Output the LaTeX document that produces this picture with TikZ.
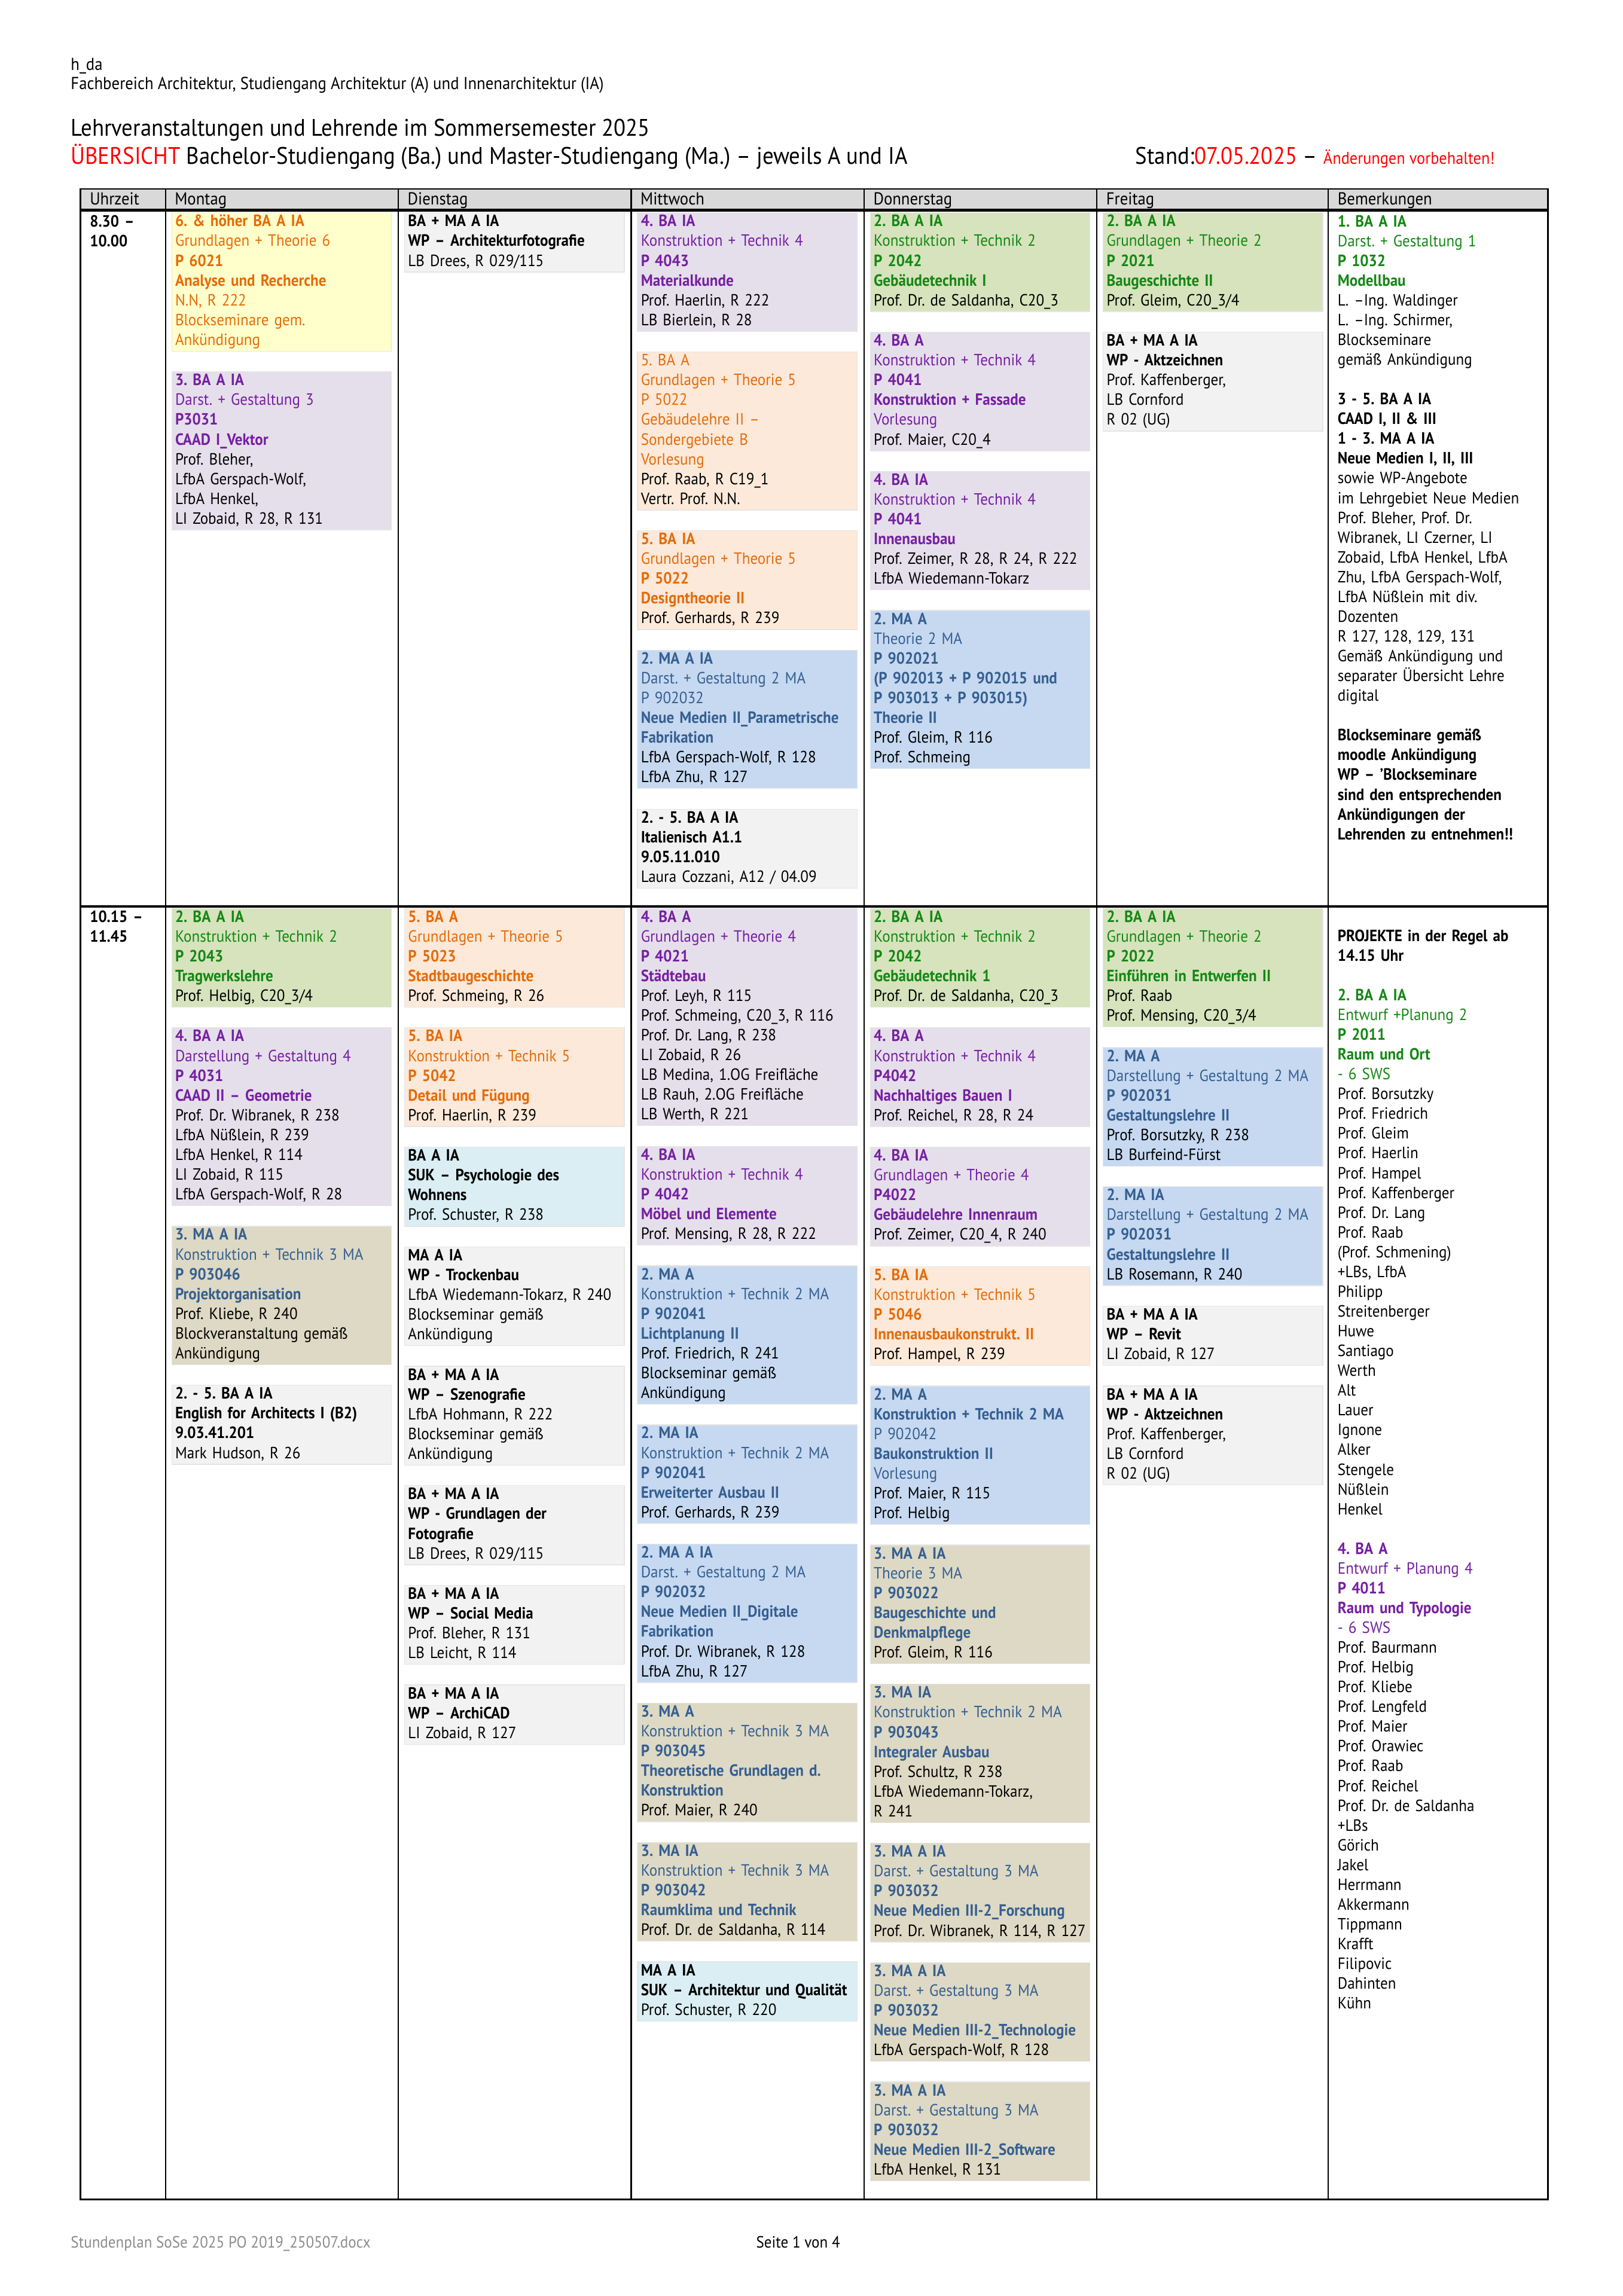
\documentclass[tikz,border=0pt]{standalone}
\usepackage{fontspec}
\setmainfont{PT Sans}[FakeStretch=0.92]
\usetikzlibrary{positioning}
\definecolor{grnT}{RGB}{20,135,20}
\definecolor{grnB}{RGB}{214,227,188}
\definecolor{purT}{RGB}{118,32,160}
\definecolor{purB}{RGB}{229,223,236}
\definecolor{oraT}{RGB}{228,108,10}
\definecolor{oraB}{RGB}{253,233,217}
\definecolor{yelB}{RGB}{255,255,204}
\definecolor{bluT}{RGB}{54,95,145}
\definecolor{bluB}{RGB}{198,217,241}
\definecolor{tanB}{RGB}{221,217,196}
\definecolor{cyaB}{RGB}{218,238,243}
\definecolor{gryB}{RGB}{242,242,242}
\definecolor{hdrB}{RGB}{217,217,217}
\definecolor{redT}{RGB}{255,0,0}
\frenchspacing
\newcommand{\tbl}{\fontsize{6}{7.28}\selectfont}
\newcommand{\hdf}{\fontsize{6.4}{7.6}\selectfont}
\newcommand{\ttl}{\fontsize{8.8}{11}\selectfont}
\newcommand{\bk}[1]{\textcolor{black}{#1}}

\begin{document}
\begin{tikzpicture}[
  x=0.018953cm, y=-0.018953cm,
  node distance=0.2559cm,
  blk/.style={anchor=north west, inner xsep=0.045cm, inner ysep=0pt, text width=2.752cm,
    align=left, font=\tbl, draw=black!10, line width=0.3pt,
    execute at begin node=\strut, execute at end node=\strut},
  grn/.style={blk, fill=grnB, text=grnT},
  pur/.style={blk, fill=purB, text=purT},
  ora/.style={blk, fill=oraB, text=oraT},
  yel/.style={blk, fill=yelB, text=oraT},
  blu/.style={blk, fill=bluB, text=bluT},
  tan/.style={blk, fill=tanB, text=bluT},
  gry/.style={blk, fill=gryB, text=black},
  cya/.style={blk, fill=cyaB, text=black},
  note/.style={anchor=north west, inner sep=0pt, text width=2.8cm, align=left, font=\tbl,
    execute at begin node=\strut, execute at end node=\strut},
  lbl/.style={anchor=base west, inner sep=0pt, font=\tbl}
]
  \useasboundingbox (0,0) rectangle (1108,1568);

  \node[lbl, font=\hdf] (hda) at (48,48) {h\_da};
  \node[lbl, font=\hdf] (fb) at (48,61) {Fachbereich Architektur, Studiengang Architektur (A) und Innenarchitektur (IA)};
  \node[lbl, font=\ttl] (title) at (48,93) {Lehrveranstaltungen und Lehrende im Sommersemester 2025};
  \node[lbl, font=\ttl] (sub) at (48,112) {\textcolor{redT}{ÜBERSICHT} Bachelor-Studiengang (Ba.) und Master-Studiengang (Ma.) – jeweils A und IA};
  \node[lbl, font=\ttl] (stand) at (775,112) {Stand:\textcolor{redT}{07.05.2025} – {\fontsize{6.3}{8}\selectfont\textcolor{redT}{Änderungen vorbehalten!}}};

  % Tabelle
  \fill[hdrB] (55,129) rectangle (1057,143);
  \draw[line width=0.6pt] (55,129) rectangle (1057,1502);
  \draw[line width=1.2pt] (55,143.5) -- (1057,143.5);
  \draw[line width=0.8pt] (55,619) -- (1057,619);
  \foreach \x in {113,272,431,590,749,907}
    \draw[line width=0.5pt] (\x,129) -- (\x,1502);
  \foreach \x/\d in {55/Uhrzeit,113/Montag,272/Dienstag,431/Mittwoch,590/Donnerstag,749/Freitag,907/Bemerkungen}
    \node[lbl, font=\hdf] (hd\d) at (\x+6,140) {\d};

  \node[note, text width=1cm] (t1) at (61,145) {\textbf{8.30 –}\\\textbf{10.00}};
  \node[note, text width=1cm] (t2) at (61,620) {\textbf{10.15 –}\\\textbf{11.45}};

  % 8.30 - 10.00
  \node[yel] (mo1) at (117,145) {\textbf{6. \& höher BA A IA}\\Grundlagen + Theorie 6\\\textbf{P 6021}\\\textbf{Analyse und Recherche}\\N.N, R 222\\Blockseminare gem.\\Ankündigung};
  \node[pur, below=of mo1] (mo2) {\textbf{3. BA A IA}\\Darst. + Gestaltung 3\\\textbf{P3031}\\\textbf{CAAD I\_Vektor}\\\bk{Prof. Bleher,}\\\bk{LfbA Gerspach-Wolf,}\\\bk{LfbA Henkel,}\\\bk{LI Zobaid, R 28, R 131}};

  \node[gry] (di1) at (276,145) {\textbf{BA + MA A IA}\\\textbf{WP – Architekturfotografie}\\LB Drees, R 029/115};

  \node[pur] (mi1) at (435,145) {\textbf{4. BA IA}\\Konstruktion + Technik 4\\\textbf{P 4043}\\\textbf{Materialkunde}\\\bk{Prof. Haerlin, R 222}\\\bk{LB Bierlein, R 28}};
  \node[ora, below=of mi1] (mi2) {5. BA A\\Grundlagen + Theorie 5\\P 5022\\Gebäudelehre II –\\Sondergebiete B\\Vorlesung\\\bk{Prof. Raab, R C19\_1}\\\bk{Vertr. Prof. N.N.}};
  \node[ora, below=of mi2] (mi3) {\textbf{5. BA IA}\\Grundlagen + Theorie 5\\\textbf{P 5022}\\\textbf{Designtheorie II}\\\bk{Prof. Gerhards, R 239}};
  \node[blu, below=of mi3] (mi4) {\textbf{2. MA A IA}\\Darst. + Gestaltung 2 MA\\P 902032\\\textbf{Neue Medien II\_Parametrische}\\\textbf{Fabrikation}\\\bk{LfbA Gerspach-Wolf, R 128}\\\bk{LfbA Zhu, R 127}};
  \node[gry, below=of mi4] (mi5) {\textbf{2. - 5. BA A IA}\\\textbf{Italienisch A1.1}\\\textbf{9.05.11.010}\\Laura Cozzani, A12 / 04.09};

  \node[grn] (do1) at (594,145) {\textbf{2. BA A IA}\\Konstruktion + Technik 2\\\textbf{P 2042}\\\textbf{Gebäudetechnik I}\\\bk{Prof. Dr. de Saldanha, C20\_3}};
  \node[pur, below=of do1] (do2) {\textbf{4. BA A}\\Konstruktion + Technik 4\\\textbf{P 4041}\\\textbf{Konstruktion + Fassade}\\Vorlesung\\\bk{Prof. Maier, C20\_4}};
  \node[pur, below=of do2] (do3) {\textbf{4. BA IA}\\Konstruktion + Technik 4\\\textbf{P 4041}\\\textbf{Innenausbau}\\\bk{Prof. Zeimer, R 28, R 24, R 222}\\\bk{LfbA Wiedemann-Tokarz}};
  \node[blu, below=of do3] (do4) {\textbf{2. MA A}\\Theorie 2 MA\\\textbf{P 902021}\\\textbf{(P 902013 + P 902015 und}\\\textbf{P 903013 + P 903015)}\\\textbf{Theorie II}\\\bk{Prof. Gleim, R 116}\\\bk{Prof. Schmeing}};

  \node[grn] (fr1) at (753,145) {\textbf{2. BA A IA}\\Grundlagen + Theorie 2\\\textbf{P 2021}\\\textbf{Baugeschichte II}\\\bk{Prof. Gleim, C20\_3/4}};
  \node[gry, below=of fr1] (fr2) {\textbf{BA + MA A IA}\\\textbf{WP - Aktzeichnen}\\Prof. Kaffenberger,\\LB Cornford\\R 02 (UG)};

  \node[note] (be1) at (913,145) {\textcolor{grnT}{\textbf{1. BA A IA}}\\\textcolor{grnT}{Darst. + Gestaltung 1}\\\textcolor{grnT}{\textbf{P 1032}}\\\textcolor{grnT}{\textbf{Modellbau}}\\L. –Ing. Waldinger\\L. –Ing. Schirmer,\\Blockseminare\\gemäß Ankündigung\\[7.28pt]
    \textbf{3 - 5. BA A IA}\\\textbf{CAAD I, II \& III}\\\textbf{1 - 3. MA A IA}\\\textbf{Neue Medien I, II, III}\\sowie WP-Angebote\\im Lehrgebiet Neue Medien\\Prof. Bleher, Prof. Dr.\\Wibranek, LI Czerner, LI\\Zobaid, LfbA Henkel, LfbA\\Zhu, LfbA Gerspach-Wolf,\\LfbA Nüßlein mit div.\\Dozenten\\R 127, 128, 129, 131\\Gemäß Ankündigung und\\separater Übersicht Lehre\\digital\\[7.28pt]
    \textbf{Blockseminare gemäß}\\\textbf{moodle Ankündigung}\\\textbf{WP – 'Blockseminare}\\\textbf{sind den entsprechenden}\\\textbf{Ankündigungen der}\\\textbf{Lehrenden zu entnehmen!!}};

  % 10.15 - 11.45
  \node[grn] (mo3) at (117,620) {\textbf{2. BA A IA}\\Konstruktion + Technik 2\\\textbf{P 2043}\\\textbf{Tragwerkslehre}\\\bk{Prof. Helbig, C20\_3/4}};
  \node[pur, below=of mo3] (mo4) {\textbf{4. BA A IA}\\Darstellung + Gestaltung 4\\\textbf{P 4031}\\\textbf{CAAD II – Geometrie}\\\bk{Prof. Dr. Wibranek, R 238}\\\bk{LfbA Nüßlein, R 239}\\\bk{LfbA Henkel, R 114}\\\bk{LI Zobaid, R 115}\\\bk{LfbA Gerspach-Wolf, R 28}};
  \node[tan, below=of mo4] (mo5) {\textbf{3. MA A IA}\\Konstruktion + Technik 3 MA\\\textbf{P 903046}\\\textbf{Projektorganisation}\\\bk{Prof. Kliebe, R 240}\\\bk{Blockveranstaltung gemäß}\\\bk{Ankündigung}};
  \node[gry, below=of mo5] (mo6) {\textbf{2. - 5. BA A IA}\\\textbf{English for Architects I (B2)}\\\textbf{9.03.41.201}\\Mark Hudson, R 26};

  \node[ora] (di2) at (276,620) {\textbf{5. BA A}\\Grundlagen + Theorie 5\\\textbf{P 5023}\\\textbf{Stadtbaugeschichte}\\\bk{Prof. Schmeing, R 26}};
  \node[ora, below=of di2] (di3) {\textbf{5. BA IA}\\Konstruktion + Technik 5\\\textbf{P 5042}\\\textbf{Detail und Fügung}\\\bk{Prof. Haerlin, R 239}};
  \node[cya, below=of di3] (di4) {\textbf{BA A IA}\\\textbf{SUK – Psychologie des}\\\textbf{Wohnens}\\Prof. Schuster, R 238};
  \node[gry, below=of di4] (di5) {\textbf{MA A IA}\\\textbf{WP - Trockenbau}\\\mbox{LfbA Wiedemann-Tokarz, R 240}\\Blockseminar gemäß\\Ankündigung};
  \node[gry, below=of di5] (di6) {\textbf{BA + MA A IA}\\\textbf{WP – Szenografie}\\LfbA Hohmann, R 222\\Blockseminar gemäß\\Ankündigung};
  \node[gry, below=of di6] (di7) {\textbf{BA + MA A IA}\\\textbf{WP - Grundlagen der}\\\textbf{Fotografie}\\LB Drees, R 029/115};
  \node[gry, below=of di7] (di8) {\textbf{BA + MA A IA}\\\textbf{WP – Social Media}\\Prof. Bleher, R 131\\LB Leicht, R 114};
  \node[gry, below=of di8] (di9) {\textbf{BA + MA A IA}\\\textbf{WP – ArchiCAD}\\LI Zobaid, R 127};

  \node[pur] (mi6) at (435,620) {\textbf{4. BA A}\\Grundlagen + Theorie 4\\\textbf{P 4021}\\\textbf{Städtebau}\\\bk{Prof. Leyh, R 115}\\\bk{Prof. Schmeing, C20\_3, R 116}\\\bk{Prof. Dr. Lang, R 238}\\\bk{LI Zobaid, R 26}\\\bk{LB Medina, 1.OG Freifläche}\\\bk{LB Rauh, 2.OG Freifläche}\\\bk{LB Werth, R 221}};
  \node[pur, below=of mi6] (mi7) {\textbf{4. BA IA}\\Konstruktion + Technik 4\\\textbf{P 4042}\\\textbf{Möbel und Elemente}\\\bk{Prof. Mensing, R 28, R 222}};
  \node[blu, below=of mi7] (mi8) {\textbf{2. MA A}\\Konstruktion + Technik 2 MA\\\textbf{P 902041}\\\textbf{Lichtplanung II}\\\bk{Prof. Friedrich, R 241}\\\bk{Blockseminar gemäß}\\\bk{Ankündigung}};
  \node[blu, below=of mi8] (mi9) {\textbf{2. MA IA}\\Konstruktion + Technik 2 MA\\\textbf{P 902041}\\\textbf{Erweiterter Ausbau II}\\\bk{Prof. Gerhards, R 239}};
  \node[blu, below=of mi9] (mi10) {\textbf{2. MA A IA}\\Darst. + Gestaltung 2 MA\\\textbf{P 902032}\\\textbf{Neue Medien II\_Digitale}\\\textbf{Fabrikation}\\\bk{Prof. Dr. Wibranek, R 128}\\\bk{LfbA Zhu, R 127}};
  \node[tan, below=of mi10] (mi11) {\textbf{3. MA A}\\Konstruktion + Technik 3 MA\\\textbf{P 903045}\\\textbf{Theoretische Grundlagen d.}\\\textbf{Konstruktion}\\\bk{Prof. Maier, R 240}};
  \node[tan, below=of mi11] (mi12) {\textbf{3. MA IA}\\Konstruktion + Technik 3 MA\\\textbf{P 903042}\\\textbf{Raumklima und Technik}\\\bk{Prof. Dr. de Saldanha, R 114}};
  \node[cya, below=of mi12] (mi13) {\textbf{MA A IA}\\\textbf{\mbox{SUK – Architektur und Qualität}}\\Prof. Schuster, R 220};

  \node[grn] (do5) at (594,620) {\textbf{2. BA A IA}\\Konstruktion + Technik 2\\\textbf{P 2042}\\\textbf{Gebäudetechnik 1}\\\bk{Prof. Dr. de Saldanha, C20\_3}};
  \node[pur, below=of do5] (do6) {\textbf{4. BA A}\\Konstruktion + Technik 4\\\textbf{P4042}\\\textbf{Nachhaltiges Bauen I}\\\bk{Prof. Reichel, R 28, R 24}};
  \node[pur, below=of do6] (do7) {\textbf{4. BA IA}\\Grundlagen + Theorie 4\\\textbf{P4022}\\\textbf{Gebäudelehre Innenraum}\\\bk{Prof. Zeimer, C20\_4, R 240}};
  \node[ora, below=of do7] (do8) {\textbf{5. BA IA}\\Konstruktion + Technik 5\\\textbf{P 5046}\\\textbf{Innenausbaukonstrukt. II}\\\bk{Prof. Hampel, R 239}};
  \node[blu, below=of do8] (do9) {\textbf{2. MA A}\\\textbf{Konstruktion + Technik 2 MA}\\P 902042\\\textbf{Baukonstruktion II}\\Vorlesung\\\bk{Prof. Maier, R 115}\\\bk{Prof. Helbig}};
  \node[tan, below=of do9] (do10) {\textbf{3. MA A IA}\\Theorie 3 MA\\\textbf{P 903022}\\\textbf{Baugeschichte und}\\\textbf{Denkmalpflege}\\\bk{Prof. Gleim, R 116}};
  \node[tan, below=of do10] (do11) {\textbf{3. MA IA}\\Konstruktion + Technik 2 MA\\\textbf{P 903043}\\\textbf{Integraler Ausbau}\\\bk{Prof. Schultz, R 238}\\\bk{LfbA Wiedemann-Tokarz,}\\\bk{R 241}};
  \node[tan, below=of do11] (do12) {\textbf{3. MA A IA}\\Darst. + Gestaltung 3 MA\\\textbf{P 903032}\\\textbf{Neue Medien III-2\_Forschung}\\\bk{\mbox{Prof. Dr. Wibranek, R 114, R 127}}};
  \node[tan, below=of do12] (do13) {\textbf{3. MA A IA}\\Darst. + Gestaltung 3 MA\\\textbf{P 903032}\\\textbf{\mbox{Neue Medien III-2\_Technologie}}\\\bk{LfbA Gerspach-Wolf, R 128}};
  \node[tan, below=of do13] (do14) {\textbf{3. MA A IA}\\Darst. + Gestaltung 3 MA\\\textbf{P 903032}\\\textbf{Neue Medien III-2\_Software}\\\bk{LfbA Henkel, R 131}};

  \node[grn] (fr3) at (753,620) {\textbf{2. BA A IA}\\Grundlagen + Theorie 2\\\textbf{P 2022}\\\textbf{Einführen in Entwerfen II}\\\bk{Prof. Raab}\\\bk{Prof. Mensing, C20\_3/4}};
  \node[blu, below=of fr3] (fr4) {\textbf{2. MA A}\\\mbox{Darstellung + Gestaltung 2 MA}\\\textbf{P 902031}\\\textbf{Gestaltungslehre II}\\\bk{Prof. Borsutzky, R 238}\\\bk{LB Burfeind-Fürst}};
  \node[blu, below=of fr4] (fr5) {\textbf{2. MA IA}\\\mbox{Darstellung + Gestaltung 2 MA}\\\textbf{P 902031}\\\textbf{Gestaltungslehre II}\\\bk{LB Rosemann, R 240}};
  \node[gry, below=of fr5] (fr6) {\textbf{BA + MA A IA}\\\textbf{WP – Revit}\\LI Zobaid, R 127};
  \node[gry, below=of fr6] (fr7) {\textbf{BA + MA A IA}\\\textbf{WP - Aktzeichnen}\\Prof. Kaffenberger,\\LB Cornford\\R 02 (UG)};

  \node[note] (be2) at (913,633) {\textbf{PROJEKTE in der Regel ab}\\\textbf{14.15 Uhr}\\[7.28pt]
    \textcolor{grnT}{\textbf{2. BA A IA}}\\\textcolor{grnT}{Entwurf +Planung 2}\\\textcolor{grnT}{\textbf{P 2011}}\\\textcolor{grnT}{\textbf{Raum und Ort}}\\\textcolor{grnT}{- 6 SWS}\\Prof. Borsutzky\\Prof. Friedrich\\Prof. Gleim\\Prof. Haerlin\\Prof. Hampel\\Prof. Kaffenberger\\Prof. Dr. Lang\\Prof. Raab\\(Prof. Schmening)\\+LBs, LfbA\\Philipp\\Streitenberger\\Huwe\\Santiago\\Werth\\Alt\\Lauer\\Ignone\\Alker\\Stengele\\Nüßlein\\Henkel\\[7.28pt]
    \textcolor{purT}{\textbf{4. BA A}}\\\textcolor{purT}{Entwurf + Planung 4}\\\textcolor{purT}{\textbf{P 4011}}\\\textcolor{purT}{\textbf{Raum und Typologie}}\\\textcolor{purT}{- 6 SWS}\\Prof. Baurmann\\Prof. Helbig\\Prof. Kliebe\\Prof. Lengfeld\\Prof. Maier\\Prof. Orawiec\\Prof. Raab\\Prof. Reichel\\Prof. Dr. de Saldanha\\+LBs\\Görich\\Jakel\\Herrmann\\Akkermann\\Tippmann\\Krafft\\Filipovic\\Dahinten\\Kühn};

  \node[lbl, text=black!45] (foot) at (48,1535) {Stundenplan SoSe 2025 PO 2019\_250507.docx};
  \node[lbl] (page) at (516,1535) {Seite 1 von 4};
\end{tikzpicture}
\end{document}
